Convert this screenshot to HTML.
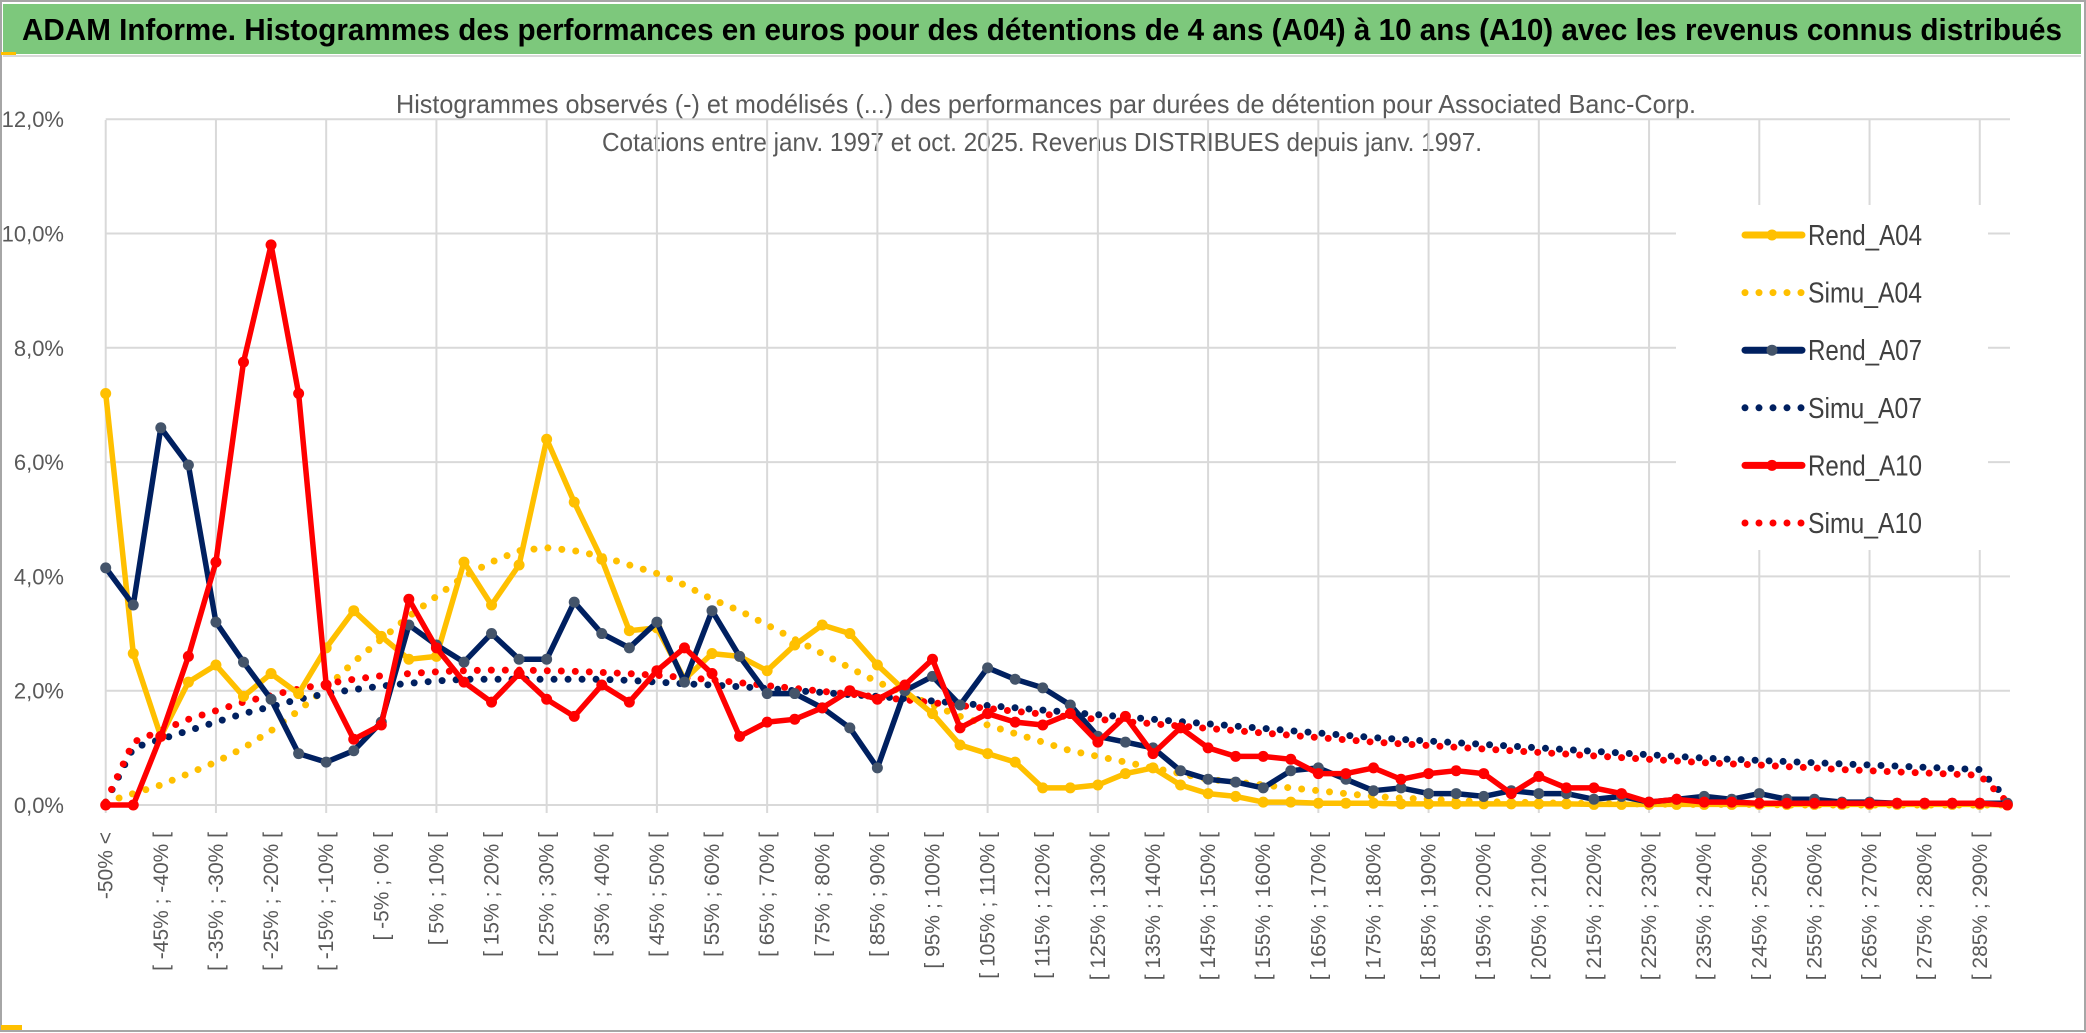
<!DOCTYPE html>
<html><head><meta charset="utf-8">
<style>
html,body{margin:0;padding:0;background:#fff;}
svg{display:block;}
text{font-family:"Liberation Sans",sans-serif;}
</style></head>
<body>
<svg id="chart" width="2086" height="1033" viewBox="0 0 2086 1033" xmlns="http://www.w3.org/2000/svg">
  <rect x="0" y="0" width="2086" height="1033" fill="#fff"/>
  <rect x="1" y="1" width="2084" height="1030" fill="none" stroke="#a6a6a6" stroke-width="2"/>
  <rect x="3" y="4" width="2078" height="50" fill="#7dc87c"/>
  <line x1="3" y1="56" x2="2081" y2="56" stroke="#d9d9d9" stroke-width="2"/>
  <rect x="1" y="52" width="15" height="3" fill="#ffc000"/>
  <rect x="1" y="1025" width="21" height="5" fill="#ffc000"/>
  <text x="22" y="40" font-size="31" font-weight="bold" fill="#000" textLength="2040" lengthAdjust="spacingAndGlyphs">ADAM Informe. Histogrammes des performances en euros pour des détentions de 4 ans (A04) à 10 ans (A10) avec les revenus connus distribués</text>
  <text x="1046" y="113" font-size="26" fill="#595959" text-anchor="middle" textLength="1300" lengthAdjust="spacingAndGlyphs">Histogrammes observés (-) et modélisés (...) des performances par durées de détention pour Associated Banc-Corp.</text>
  <text x="1042" y="151" font-size="26" fill="#595959" text-anchor="middle" textLength="880" lengthAdjust="spacingAndGlyphs">Cotations entre janv. 1997 et oct. 2025. Revenus DISTRIBUES depuis janv. 1997.</text>
  <g id="grid"></g>
  <g id="series"></g>
  <g id="axes"></g>
  <g id="legend"></g>
</svg>
<script>
const rendA04 = [7.2,2.65,1.2,2.15,2.45,1.9,2.3,1.95,2.75,3.4,
2.95,2.55,2.6,4.25,3.5,4.2,6.4,5.3,4.3,3.05,
3.1,2.2,2.65,2.6,2.35,2.8,3.15,3.0,2.45,2.0,
1.6,1.05,0.9,0.75,0.3,0.3,0.35,0.55,0.65,0.35,
0.2,0.15,0.05,0.05,0.03,0.03,0.03,0.02,0.02,0.02,
0.02,0.02,0.02,0.02,0.01,0.01,0.01,0.01,0.01,0.01,
0.01,0.01,0.01,0.01,0.01,0.01,0.01,0.01,0.01,0];
const rendA07 = [4.15,3.5,6.6,5.95,3.2,2.5,1.85,0.9,0.75,0.95,
1.45,3.15,2.8,2.5,3.0,2.55,2.55,3.55,3.0,2.75,
3.2,2.15,3.4,2.6,1.95,1.95,1.7,1.35,0.65,2.0,
2.25,1.75,2.4,2.2,2.05,1.75,1.2,1.1,1.0,0.6,
0.45,0.4,0.3,0.6,0.65,0.45,0.25,0.3,0.2,0.2,
0.15,0.25,0.2,0.2,0.1,0.15,0.05,0.1,0.15,0.1,
0.2,0.1,0.1,0.05,0.05,0.03,0.03,0.03,0.03,0.03];
const rendA10 = [0,0,1.2,2.6,4.25,7.75,9.8,7.2,2.1,1.15,
1.4,3.6,2.75,2.15,1.8,2.3,1.85,1.55,2.1,1.8,
2.35,2.75,2.3,1.2,1.45,1.5,1.7,2.0,1.85,2.1,
2.55,1.35,1.6,1.45,1.4,1.6,1.1,1.55,0.9,1.35,
1.0,0.85,0.85,0.8,0.55,0.55,0.65,0.45,0.55,0.6,
0.55,0.2,0.5,0.3,0.3,0.2,0.05,0.1,0.05,0.05,
0.03,0.03,0.03,0.03,0.03,0.03,0.03,0.03,0.03,0];
const simuA04 = [0.05,0.2,0.35,0.55,0.75,1.0,1.3,1.65,2.05,2.5,
2.9,3.3,3.65,4.0,4.25,4.45,4.5,4.45,4.35,4.2,
4.05,3.85,3.6,3.4,3.15,2.9,2.65,2.4,2.15,1.95,
1.75,1.55,1.4,1.25,1.1,0.95,0.85,0.75,0.65,0.55,
0.45,0.4,0.35,0.3,0.25,0.2,0.15,0.12,0.1,0.08,
0.06,0.05,0.04,0.03,0.03,0.02,0.02,0.01,0.01,0.01,
0.01,0,0,0,0,0,0,0,0,0];
const simuA07 = [0.05,1.0,1.15,1.3,1.45,1.6,1.72,1.85,1.95,2.02,
2.08,2.13,2.17,2.2,2.2,2.2,2.2,2.2,2.2,2.18,
2.15,2.12,2.1,2.07,2.04,2.0,1.97,1.93,1.9,1.86,
1.82,1.78,1.74,1.7,1.66,1.62,1.58,1.54,1.5,1.46,
1.42,1.38,1.34,1.3,1.26,1.22,1.18,1.15,1.12,1.09,
1.06,1.03,1.0,0.97,0.94,0.91,0.88,0.85,0.82,0.8,
0.78,0.76,0.74,0.72,0.7,0.68,0.66,0.64,0.62,0.1];
const simuA10 = [0.05,1.1,1.3,1.5,1.65,1.8,1.92,2.03,2.12,2.2,
2.26,2.3,2.33,2.35,2.36,2.36,2.35,2.34,2.32,2.3,
2.27,2.23,2.19,2.14,2.09,2.04,1.99,1.94,1.89,1.84,
1.79,1.74,1.69,1.64,1.59,1.54,1.5,1.46,1.42,1.38,
1.34,1.3,1.26,1.22,1.18,1.14,1.1,1.07,1.04,1.01,
0.98,0.95,0.92,0.89,0.86,0.83,0.8,0.77,0.74,0.72,
0.7,0.67,0.65,0.62,0.6,0.58,0.56,0.54,0.52,0.05];
const yTicks = [0,2,4,6,8,10,12];
const yTickLabels = ["0,0%","2,0%","4,0%","6,0%","8,0%","10,0%","12,0%"];
const categories = ["-50% <"];
for (let lo = -50; lo < 295; lo += 5) categories.push("[ " + lo + "% ; " + (lo + 5) + "% [");

const NS = "http://www.w3.org/2000/svg";
const X0 = 105.7, STEP = 27.56, Y0 = 805, YS = 57.15, PLOT_RIGHT = 2010, PLOT_TOP = 120;
function xAt(i){ return X0 + i * STEP; }
function yAt(v){ return Y0 - v * YS; }
function mk(tag, attrs, parent){ const e = document.createElementNS(NS, tag); for (const k in attrs) e.setAttribute(k, attrs[k]); parent.appendChild(e); return e; }

const grid = document.getElementById('grid');
yTicks.forEach((t, k) => {
  const l = mk('line', {x1: X0, x2: PLOT_RIGHT, y1: yAt(t), y2: yAt(t), stroke: '#d9d9d9', 'stroke-width': 2}, grid);
  
  
});
for (let i = 0; i < categories.length; i += 4) {
  const l = mk('line', {x1: xAt(i), x2: xAt(i), y1: PLOT_TOP, y2: Y0 + 8, stroke: '#d9d9d9', 'stroke-width': 2}, grid);
  
  
}

const axes = document.getElementById('axes');
yTicks.forEach((t, k) => {
  const tx = mk('text', {x: 64, y: yAt(t) + 8, 'font-size': 22, fill: '#595959', 'text-anchor': 'end'}, axes);
  tx.textContent = yTickLabels[k];
  
  
});
categories.forEach((c, i) => {
  if (i % 2 !== 0) return;
  const x = xAt(i) + 7, y = 832;
  const tx = mk('text', {x: x, y: y, 'font-size': 21, fill: '#595959', 'text-anchor': 'end', transform: 'rotate(-90 ' + x + ' ' + y + ')'}, axes);
  tx.textContent = c;
  
  
});

const series = document.getElementById('series');
function pts(arr){ return arr.map((v, i) => xAt(i).toFixed(1) + ',' + yAt(v).toFixed(1)).join(' '); }
function dotted(arr, color, name){
  const p = mk('polyline', {points: pts(arr), fill: 'none', stroke: color, 'stroke-width': 7, 'stroke-linecap': 'round', 'stroke-dasharray': '0 14'}, series);
  
  
}
function solid(arr, color, mcolor, name){
  const g = mk('g', {}, series);
  
  
  const p = mk('polyline', {points: pts(arr), fill: 'none', stroke: color, 'stroke-width': 5.5, 'stroke-linejoin': 'round'}, g);
  
  
  arr.forEach((v, i) => {
    const c = mk('circle', {cx: xAt(i), cy: yAt(v), r: 5.5, fill: mcolor}, g);
    
    
  });
}
dotted(simuA04, '#ffc000', 'simu-a04-line');
dotted(simuA07, '#002060', 'simu-a07-line');
dotted(simuA10, '#ff0000', 'simu-a10-line');
solid(rendA04, '#ffc000', '#ffc000', 'rend-a04-series');
solid(rendA07, '#002060', '#44546a', 'rend-a07-series');
solid(rendA10, '#ff0000', '#ff0000', 'rend-a10-series');

const legend = document.getElementById('legend');
const lb = mk('rect', {x: 1676, y: 205, width: 312, height: 345, fill: '#fff'}, legend);


const legendNames = ["Rend_A04","Simu_A04","Rend_A07","Simu_A07","Rend_A10","Simu_A10"];
const legendColors = ["#ffc000","#ffc000","#002060","#002060","#ff0000","#ff0000"];
const legendMarkers = ["#ffc000",null,"#44546a",null,"#ff0000",null];
legendNames.forEach((n, k) => {
  const y = 235 + k * 57.6;
  const g = mk('g', {}, legend);
  
  
  if (legendMarkers[k]) {
    mk('line', {x1: 1745, x2: 1802, y1: y, y2: y, stroke: legendColors[k], 'stroke-width': 7, 'stroke-linecap': 'round'}, g);
    mk('circle', {cx: 1772, cy: y, r: 5.5, fill: legendMarkers[k]}, g);
  } else {
    mk('line', {x1: 1745, x2: 1802, y1: y, y2: y, stroke: legendColors[k], 'stroke-width': 7, 'stroke-linecap': 'round', 'stroke-dasharray': '0 14'}, g);
  }
  const t = mk('text', {x: 1808, y: y + 10, 'font-size': 29, fill: '#404040', textLength: 114, lengthAdjust: 'spacingAndGlyphs'}, g);
  t.textContent = n;
  
  
});
</script>
</body></html>
